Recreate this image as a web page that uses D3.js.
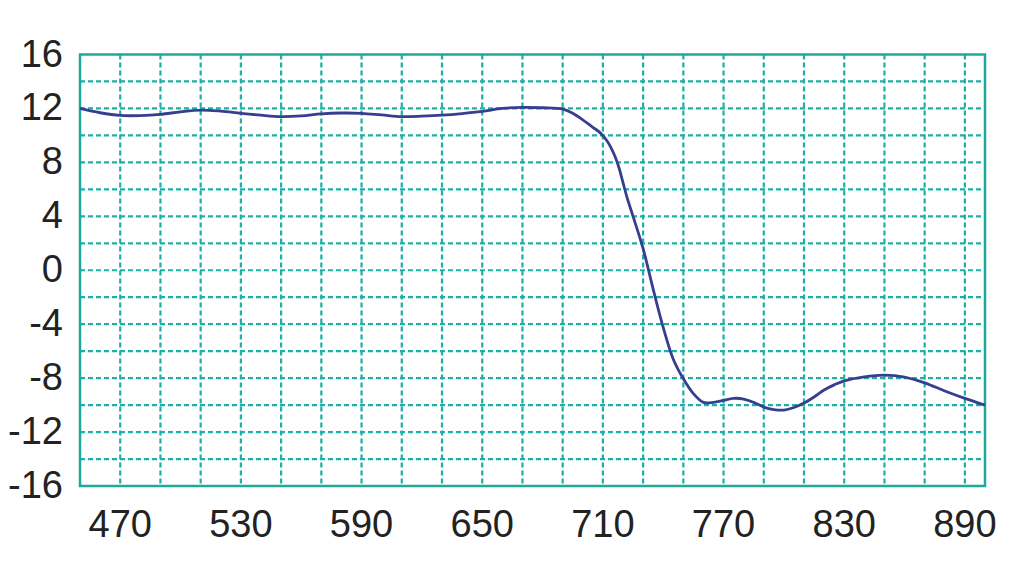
<!DOCTYPE html>
<html><head><meta charset="utf-8">
<script src="https://cdn.jsdelivr.net/npm/d3@7"></script>
<style>body{margin:0;background:#fff}svg{display:block}</style>
</head><body>
<svg id="c" width="1024" height="576"></svg>
<script>
const xValues = [450,460,470,480,490,500,510,520,530,540,550,560,570,580,590,600,610,620,630,640,650,660,670,680,690,695,700,705,708,710,712,714,716,718,720,722,725,730,735,740,745,750,755,760,765,770,775,780,785,790,795,800,805,810,815,820,825,830,840,850,860,870,880,890,900];
const yValues = [12.0,11.68,11.48,11.47,11.56,11.75,11.88,11.8,11.64,11.5,11.4,11.45,11.6,11.66,11.64,11.52,11.4,11.43,11.5,11.62,11.78,12.0,12.08,12.05,11.95,11.65,11.15,10.6,10.28,9.98,9.6,9.1,8.45,7.6,6.5,5.4,4.0,1.6,-1.4,-4.24,-6.6,-8.05,-9.15,-9.8,-9.8,-9.65,-9.5,-9.55,-9.8,-10.15,-10.33,-10.37,-10.18,-9.85,-9.4,-8.88,-8.5,-8.2,-7.9,-7.78,-7.92,-8.35,-8.95,-9.5,-10.0];
const xTickLabels = [470,530,590,650,710,770,830,890];
const yTickLabels = [16,12,8,4,0,-4,-8,-12,-16];
const xGrid = d3.range(470, 900, 20);
const yGrid = d3.range(-14, 16, 2);

const svg = d3.select("#c");
const L = 80, R = 985, T = 54.5, B = 486;
const x = d3.scaleLinear().domain([450, 900]).range([L, R]);
const y = d3.scaleLinear().domain([-16, 16]).range([B, T]);
const gridColor = "#1cb0a6";

svg.append("g").selectAll("line").data(xGrid).join("line")
  .attr("x1", d => x(d)).attr("x2", d => x(d)).attr("y1", T).attr("y2", B)
  .attr("stroke", gridColor).attr("stroke-width", 2.2).attr("stroke-dasharray", "5,3");
svg.append("g").selectAll("line").data(yGrid).join("line")
  .attr("y1", d => y(d)).attr("y2", d => y(d)).attr("x1", L).attr("x2", R)
  .attr("stroke", gridColor).attr("stroke-width", 2.2).attr("stroke-dasharray", "5,3");

svg.append("rect").attr("x", L).attr("y", T).attr("width", R - L).attr("height", B - T)
  .attr("fill", "none").attr("stroke", "#1fa99c").attr("stroke-width", 2.5);

const line = d3.line().x(d => x(d[0])).y(d => y(d[1])).curve(d3.curveCatmullRom.alpha(0.5));
svg.append("path").datum(xValues.map((v, i) => [v, yValues[i]]))
  .attr("d", line).attr("fill", "none").attr("stroke", "#363f8f").attr("stroke-width", 2.8);

const font = "'Liberation Sans', Arial, sans-serif";
svg.append("g").selectAll("text").data(yTickLabels).join("text")
  .attr("x", 63).attr("y", d => y(d) - 1).attr("text-anchor", "end").attr("dominant-baseline", "central")
  .attr("font-family", font).attr("font-size", 38).attr("fill", "#222").text(d => d);
svg.append("g").selectAll("text").data(xTickLabels).join("text")
  .attr("x", d => x(d)).attr("y", 537).attr("text-anchor", "middle")
  .attr("font-family", font).attr("font-size", 38).attr("fill", "#222").text(d => d);
</script>
</body></html>
